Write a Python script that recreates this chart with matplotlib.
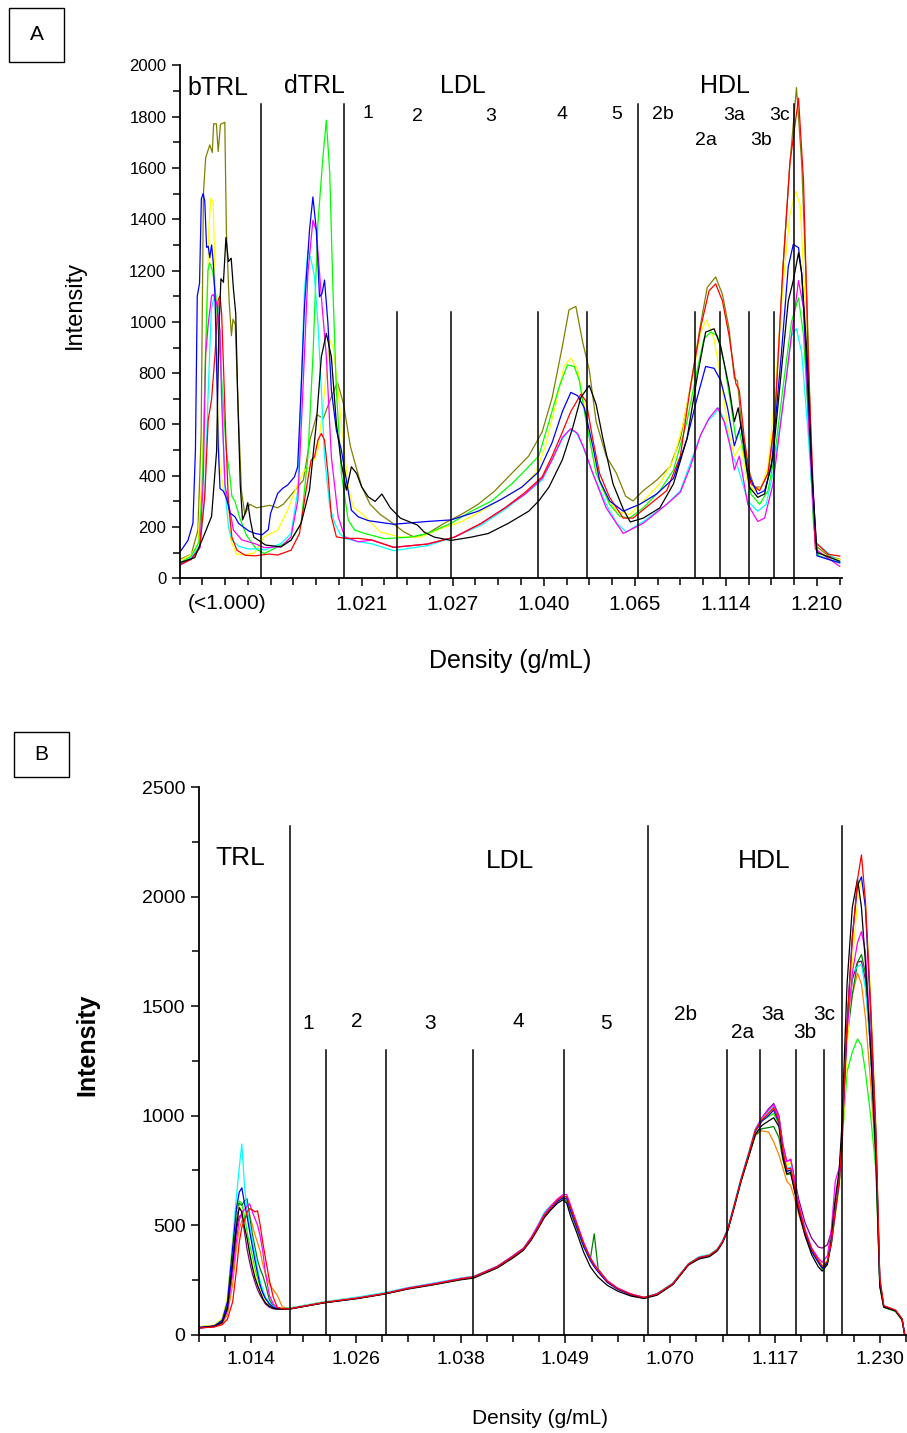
import matplotlib
matplotlib.use("Agg")
import matplotlib.pyplot as plt
from matplotlib.patches import Rectangle
from matplotlib.ticker import MultipleLocator

plt.rcParams['font.family'] = ['Liberation Sans', 'DejaVu Sans']

# ---------------- Panel A data (x in axis-tick units, y = intensity) ----------------
A_BLUE = [(0.0,100),(0.37,148),(0.59,215),(0.70,500),(0.78,1100),(0.88,1150),(0.96,1480),(1.04,1500),(1.11,1470),(1.19,1290),(1.26,1295),(1.33,1250),(1.41,1300),(1.48,1235),(1.56,1100),(1.63,830),(1.70,520),(1.78,350),(1.93,340),(2.07,310),(2.22,255),(2.44,240),(2.59,215),(2.81,200),(3.04,185),(3.33,175),(3.63,170),(3.9,190),(4.0,253),(4.31,331),(4.53,351),(4.75,364),(5.05,396),(5.19,435),(5.34,734),(5.49,1059),(5.71,1357),(5.86,1487),(6.01,1357),(6.15,1098),(6.26,1110),(6.37,1163),(6.52,994),(6.67,734),(6.89,578),(7.11,500),(7.33,383),(7.55,266),(7.85,240),(8.3,225),(9.41,211),(10.89,222),(11.93,228),(13.12,262),(14.15,309),(15.04,356),(15.78,416),(16.37,530),(16.82,651),(17.19,725),(17.49,712),(17.78,665),(18.15,517),(18.45,383),(18.89,302),(19.49,262),(20.22,289),(20.96,329),(21.7,390),(22.29,544),(22.74,705),(23.11,826),(23.48,819),(23.77,772),(24.07,665),(24.37,517),(24.66,597),(24.96,410),(25.4,329),(25.7,342),(26.0,436),(26.44,879),(26.74,1215),(26.96,1302),(27.19,1289),(27.33,1188),(27.56,812),(27.78,410),(28.0,88),(28.5,74),(29.0,61)]
A_OLIVE = [(0,74),(0.52,94),(0.81,188),(0.95,560),(1.05,1500),(1.15,1640),(1.33,1690),(1.44,1660),(1.5,1772),(1.62,1772),(1.7,1664),(1.8,1770),(1.99,1778),(2.06,1349),(2.18,1081),(2.28,946),(2.35,1010),(2.45,990),(2.57,678),(2.72,342),(2.87,249),(3.09,289),(3.38,275),(3.97,285),(4.3,275),(4.56,289),(5.0,336),(5.44,383),(5.74,544),(6.03,638),(6.32,624),(6.54,678),(6.94,765),(7.21,678),(7.5,517),(7.79,423),(8.01,356),(8.37,289),(8.82,249),(9.26,222),(9.86,181),(10.3,161),(10.89,175),(11.63,215),(12.37,249),(13.12,289),(13.86,342),(14.6,410),(15.34,477),(15.93,571),(16.37,705),(16.82,906),(17.11,1047),(17.41,1060),(17.71,920),(18.0,812),(18.3,611),(18.74,477),(19.19,410),(19.6,320),(19.92,302),(20.37,342),(20.96,383),(21.55,436),(22.0,544),(22.44,745),(22.88,987),(23.18,1134),(23.55,1175),(23.85,1107),(24.14,973),(24.37,780),(24.51,770),(24.66,620),(24.96,436),(25.25,356),(25.55,356),(25.85,410),(26.14,611),(26.51,1215),(26.81,1617),(27.1,1913),(27.33,1617),(27.56,1081),(27.78,410),(27.93,128),(28.5,88),(29.0,74)]
A_YELLOW = [(0,67),(0.52,94),(0.81,134),(1.0,430),(1.19,966),(1.29,1369),(1.38,1483),(1.48,1463),(1.56,1168),(1.67,698),(1.78,430),(1.93,349),(2.15,309),(2.25,150),(2.5,95),(2.9,92),(3.3,100),(3.72,162),(4.31,188),(4.75,266),(5.2,370),(5.49,422),(5.78,435),(6.08,500),(6.3,669),(6.45,799),(6.6,930),(6.75,900),(6.96,734),(7.19,539),(7.41,357),(7.63,279),(8.0,253),(8.82,181),(9.7,161),(10.6,161),(11.5,195),(12.4,222),(13.26,262),(14.15,309),(15.04,356),(15.63,410),(16.08,517),(16.52,678),(16.89,826),(17.19,859),(17.49,812),(17.78,678),(18.15,477),(18.6,342),(19.19,262),(19.77,249),(20.37,302),(21.1,369),(21.7,463),(22.14,611),(22.59,812),(22.88,960),(23.15,1007),(23.48,933),(23.77,785),(24.07,597),(24.37,477),(24.66,517),(24.96,369),(25.25,342),(25.55,355),(25.85,436),(26.14,705),(26.51,1148),(26.81,1416),(27.06,1510),(27.26,1456),(27.48,1081),(27.7,544),(27.93,114),(28.5,81),(29.0,74)]
A_GREEN = [(0,60),(0.5,85),(0.85,140),(1.0,350),(1.15,900),(1.25,1200),(1.32,1230),(1.45,1200),(1.6,1100),(1.75,900),(1.91,700),(2.05,500),(2.21,400),(2.3,320),(2.43,302),(2.65,235),(2.94,168),(3.38,114),(3.72,97),(4.31,123),(4.9,149),(5.34,214),(5.64,474),(5.86,864),(6.08,1383),(6.3,1643),(6.45,1786),(6.6,1578),(6.74,1124),(6.89,734),(7.11,409),(7.41,227),(7.7,188),(8.14,175),(9.0,155),(10.15,161),(10.89,175),(11.93,215),(12.82,262),(13.71,302),(14.6,369),(15.34,436),(15.78,477),(16.23,611),(16.67,745),(17.04,832),(17.34,826),(17.56,772),(17.86,611),(18.3,410),(18.89,289),(19.34,242),(19.77,235),(20.37,275),(21.1,342),(21.7,423),(22.29,611),(22.74,812),(23.03,933),(23.33,960),(23.63,946),(23.92,839),(24.22,678),(24.44,544),(24.59,577),(24.81,477),(25.1,329),(25.48,289),(25.85,342),(26.14,477),(26.51,745),(26.88,1000),(27.19,1094),(27.41,946),(27.63,611),(27.85,208),(28.07,88),(29.0,61)]
A_CYAN = [(0,55),(0.5,80),(0.9,130),(1.1,300),(1.25,700),(1.4,1050),(1.5,1090),(1.6,1080),(1.7,1060),(1.8,900),(1.9,600),(2.0,350),(2.15,200),(2.3,150),(2.6,125),(3.0,115),(3.6,115),(3.72,110),(4.46,136),(4.9,175),(5.2,344),(5.34,734),(5.49,1124),(5.64,1279),(5.78,1241),(5.93,1176),(6.08,994),(6.23,734),(6.37,474),(6.6,279),(6.82,214),(7.04,175),(7.26,156),(7.85,143),(8.44,135),(9.41,108),(10.89,128),(12.08,161),(13.26,208),(14.3,269),(15.19,329),(15.93,383),(16.37,463),(16.82,544),(17.11,577),(17.41,571),(17.71,517),(18.15,410),(18.74,289),(19.2,215),(19.63,181),(20.37,222),(21.4,289),(22.0,342),(22.44,450),(22.88,557),(23.18,611),(23.48,638),(23.7,665),(24.0,597),(24.29,477),(24.51,436),(24.96,302),(25.4,262),(25.77,289),(26.07,410),(26.51,678),(26.88,946),(27.1,973),(27.33,879),(27.63,544),(27.93,141),(29.0,61)]
A_MAGENTA = [(0,50),(0.5,75),(0.9,120),(1.05,400),(1.15,880),(1.19,913),(1.26,990),(1.41,1101),(1.48,1107),(1.63,1074),(1.78,966),(1.85,698),(2.0,362),(2.15,295),(2.37,188),(2.74,150),(3.33,135),(3.72,120),(4.46,123),(4.9,162),(5.2,305),(5.42,734),(5.64,1189),(5.86,1396),(6.01,1357),(6.23,1098),(6.45,864),(6.67,474),(6.97,240),(7.26,162),(7.85,143),(8.44,149),(9.41,121),(10.89,134),(12.08,161),(13.26,215),(14.3,275),(15.19,329),(15.93,390),(16.37,463),(16.82,550),(17.19,584),(17.49,564),(17.78,503),(18.15,410),(18.74,275),(19.49,175),(20.37,215),(21.4,289),(22.0,336),(22.44,436),(22.88,557),(23.26,624),(23.63,665),(23.92,611),(24.22,503),(24.37,423),(24.59,477),(24.96,289),(25.4,222),(25.7,235),(26.07,369),(26.51,678),(26.88,946),(27.19,1161),(27.41,1054),(27.63,611),(27.93,114),(29.0,47)]
A_RED = [(0,54),(0.52,74),(0.89,121),(1.11,322),(1.26,617),(1.41,698),(1.56,872),(1.7,1087),(1.78,1101),(1.85,1034),(1.93,832),(2.03,564),(2.15,295),(2.3,161),(2.52,110),(2.89,90),(3.33,88),(3.93,95),(4.31,91),(4.9,110),(5.27,175),(5.56,344),(5.78,461),(5.93,474),(6.08,539),(6.23,565),(6.37,539),(6.52,409),(6.67,240),(6.89,162),(7.26,156),(7.85,156),(8.44,150),(9.41,121),(10.89,134),(12.08,161),(13.26,215),(14.3,275),(15.19,336),(15.93,396),(16.37,477),(16.82,571),(17.19,651),(17.63,718),(17.86,691),(18.15,544),(18.45,410),(18.89,316),(19.49,235),(19.92,235),(20.66,289),(21.4,342),(22.0,477),(22.44,745),(22.88,973),(23.26,1121),(23.55,1148),(23.85,1081),(24.14,946),(24.44,759),(24.59,732),(24.81,544),(25.1,369),(25.48,342),(25.85,410),(26.14,611),(26.51,1215),(26.81,1617),(27.19,1872),(27.41,1550),(27.63,812),(27.93,141),(28.5,94),(29.0,87)]
A_BLACK = [(0,61),(0.67,81),(1.11,175),(1.41,242),(1.63,497),(1.73,966),(1.82,1168),(1.93,1154),(2.04,1329),(2.15,1235),(2.27,1248),(2.37,1127),(2.47,1033),(2.56,698),(2.67,362),(2.77,228),(2.89,255),(3.0,295),(3.11,228),(3.26,161),(3.48,148),(3.78,130),(4.46,123),(4.9,149),(5.34,214),(5.71,344),(6.01,604),(6.23,864),(6.45,955),(6.67,864),(6.89,604),(7.11,448),(7.33,344),(7.55,435),(7.78,409),(8.0,357),(8.29,318),(8.59,300),(8.89,329),(9.26,275),(9.7,235),(10.45,208),(10.74,181),(11.19,161),(11.93,148),(12.82,161),(13.56,175),(14.45,215),(15.34,262),(15.78,302),(16.23,356),(16.82,463),(17.26,584),(17.63,705),(18.0,752),(18.3,678),(18.6,544),(19.04,369),(19.49,270),(19.8,220),(20.37,235),(21.1,275),(21.7,369),(22.29,544),(22.74,785),(23.11,960),(23.48,973),(23.77,906),(24.14,745),(24.37,611),(24.54,665),(24.74,544),(25.03,356),(25.4,316),(25.7,329),(26.07,477),(26.44,812),(26.74,1081),(26.96,1161),(27.19,1269),(27.33,1188),(27.56,879),(27.78,410),(28.0,101),(29.0,67)]

A_SERIES = [(A_OLIVE, '#808000'), (A_YELLOW, '#FFFF00'), (A_GREEN, '#00FF00'), (A_CYAN, '#00FFFF'),
            (A_MAGENTA, '#FF00FF'), (A_RED, '#FF0000'), (A_BLUE, '#0000FF'), (A_BLACK, '#000000')]

A_TALL_LINES = [3.58, 7.22, 20.15, 27.0]
A_SHORT_LINES = [9.57, 11.92, 15.74, 17.9, 22.65, 23.72, 25.0, 26.13]
A_TALL_TOP, A_SHORT_TOP = 1850, 1040
A_TICK_POS = [8, 12, 16, 20, 24, 28]
A_TICK_LAB = ['1.021', '1.027', '1.040', '1.065', '1.114', '1.210']
A_BIG_LABELS = [('bTRL', 1.69, 1911), ('dTRL', 5.92, 1919), ('LDL', 12.45, 1919), ('HDL', 23.96, 1919)]
A_SMALL_LABELS = [('1', 8.28, 1814), ('2', 10.47, 1802), ('3', 13.68, 1802), ('4', 16.8, 1810),
                  ('5', 19.21, 1810), ('2b', 21.23, 1810), ('3a', 24.35, 1806), ('3c', 26.37, 1806),
                  ('2a', 23.12, 1705), ('3b', 25.54, 1705)]

# ---------------- Panel B data ----------------
B_X_TRL = [0.0, 0.6, 0.9, 1.1, 1.3, 1.45, 1.55, 1.65, 1.75, 1.85, 1.95, 2.05, 2.15, 2.25, 2.35, 2.45, 2.55, 2.7, 2.85, 3.0, 3.2]
B_X_MAIN = [3.5, 4.8, 6.1, 7.1, 8.0, 9.0, 10.0, 10.5, 11.4, 12.0,
            12.4, 12.7, 12.95, 13.2, 13.45, 13.7, 13.9, 14.05, 14.2, 14.45,
            14.7, 14.95, 15.1, 15.25, 15.6, 16.0, 16.5, 17.0, 17.5, 18.1,
            18.7, 19.1, 19.5, 19.8, 20.0, 20.2, 20.45, 20.7, 21.0, 21.25,
            21.5, 21.75, 21.95, 22.15, 22.3, 22.45, 22.6, 22.75, 22.9, 23.15,
            23.4, 23.65, 23.8, 24.0, 24.15, 24.3, 24.45, 24.55, 24.75, 24.95,
            25.15, 25.3, 25.45, 25.65, 25.85, 26.0, 26.15, 26.6, 26.85, 26.95]

B_CYAN_TRL = [35, 42, 70, 160, 430, 640, 760, 870, 680, 570, 500, 430, 370, 300, 245, 205, 170, 145, 128, 120, 118]
B_CYAN = [122, 150, 172, 192, 215, 236, 258, 266, 312, 360,
          395, 445, 500, 560, 590, 615, 630, 618, 575, 495,
          415, 350, 318, 292, 242, 210, 185, 170, 188, 236,
          325, 356, 366, 392, 430, 488, 600, 715, 835, 940,
          990, 1015, 1040, 975, 840, 760, 765, 675, 585, 470,
          390, 340, 315, 340, 430, 570, 700, 850, 1350, 1650,
          1680, 1690, 1580, 1300, 850, 240, 128, 108, 70, 0]
B_BLUE_TRL = [33, 40, 65, 150, 400, 580, 650, 670, 600, 540, 470, 405, 340, 280, 225, 190, 165, 140, 125, 118, 117]
B_BLUE = [118, 146, 166, 186, 210, 230, 253, 262, 308, 355,
          390, 437, 487, 540, 575, 608, 625, 620, 566, 484,
          402, 338, 310, 286, 238, 206, 181, 166, 183, 230,
          320, 350, 360, 386, 422, 478, 588, 703, 822, 928,
          975, 1000, 1025, 968, 830, 745, 750, 665, 575, 462,
          380, 332, 305, 330, 415, 555, 690, 860, 1420, 1820,
          2050, 2090, 1950, 1480, 920, 250, 130, 110, 70, 0]
B_BLACK_TRL = [30, 38, 55, 120, 330, 500, 580, 560, 490, 440, 370, 310, 260, 225, 195, 165, 145, 130, 120, 117, 116]
B_BLACK = [117, 145, 165, 185, 208, 228, 250, 258, 304, 350,
           385, 432, 482, 535, 570, 600, 615, 600, 540, 460,
           375, 310, 285, 262, 225, 198, 176, 165, 180, 228,
           318, 345, 356, 382, 420, 476, 585, 698, 815, 915,
           955, 975, 990, 950, 810, 735, 740, 655, 565, 450,
           365, 310, 290, 320, 440, 620, 750, 950, 1600, 1950,
           2080, 1950, 1700, 1300, 800, 220, 125, 108, 68, 0]
B_LIME_TRL = [35, 42, 65, 140, 380, 560, 610, 600, 540, 470, 410, 360, 300, 255, 220, 190, 165, 142, 128, 120, 118]
B_LIME = [121, 149, 169, 189, 213, 233, 256, 265, 311, 359,
          393, 441, 492, 546, 582, 614, 630, 620, 570, 488,
          407, 342, 314, 290, 242, 210, 185, 170, 186, 233,
          323, 353, 363, 389, 426, 482, 592, 706, 826, 931,
          975, 995, 1010, 960, 830, 748, 752, 668, 578, 465,
          384, 333, 305, 330, 418, 555, 690, 850, 1200, 1290,
          1350, 1320, 1200, 1000, 750, 220, 125, 105, 65, 0]
B_DKGREEN_TRL = [33, 40, 60, 130, 350, 540, 600, 590, 610, 620, 540, 460, 400, 340, 300, 270, 230, 160, 130, 120, 118]
B_DKGREEN = [119, 147, 167, 187, 211, 231, 254, 263, 309, 357,
             391, 443, 495, 550, 585, 610, 622, 610, 560, 480,
             400, 345, 460, 300, 245, 210, 183, 168, 184, 231,
             321, 351, 361, 387, 424, 478, 585, 700, 815, 910,
             940, 945, 950, 900, 800, 730, 735, 655, 570, 460,
             380, 330, 300, 325, 415, 550, 690, 850, 1350, 1550,
             1700, 1735, 1650, 1300, 850, 230, 128, 108, 68, 0]
B_YELLOW_TRL = [36, 44, 75, 170, 420, 560, 585, 560, 500, 440, 380, 330, 280, 235, 200, 170, 150, 132, 122, 118, 117]
B_YELLOW = [120, 148, 168, 188, 212, 232, 255, 264, 310, 358,
            392, 440, 490, 545, 580, 612, 628, 622, 568, 486,
            405, 340, 312, 288, 240, 208, 183, 168, 185, 232,
            322, 352, 362, 388, 425, 480, 590, 705, 825, 935,
            985, 1010, 1030, 975, 850, 770, 790, 690, 590, 470,
            388, 340, 318, 340, 415, 540, 670, 820, 1300, 1700,
            1980, 2075, 1990, 1550, 950, 260, 132, 112, 72, 0]
B_MAGENTA_TRL = [32, 38, 55, 110, 280, 440, 520, 560, 570, 585, 597, 560, 530, 500, 450, 380, 280, 180, 140, 122, 118]
B_MAGENTA = [119, 147, 168, 188, 213, 233, 256, 265, 312, 360,
             395, 445, 497, 552, 588, 620, 638, 640, 590, 505,
             420, 352, 322, 296, 246, 212, 186, 170, 186, 233,
             322, 352, 362, 388, 425, 482, 592, 707, 828, 935,
             990, 1025, 1050, 990, 860, 790, 800, 700, 600, 480,
             395, 350, 330, 360, 480, 700, 760, 880, 1380, 1650,
             1790, 1840, 1750, 1350, 880, 240, 130, 110, 70, 0]
B_RED_TRL = [30, 35, 45, 70, 150, 300, 420, 490, 520, 560, 575, 570, 560, 565, 500, 420, 350, 250, 170, 125, 118]
B_RED = [118, 147, 167, 187, 211, 231, 254, 263, 309, 357,
         391, 439, 489, 544, 580, 614, 632, 630, 580, 498,
         415, 348, 318, 292, 243, 210, 184, 169, 185, 232,
         322, 352, 362, 388, 425, 480, 590, 705, 825, 930,
         980, 1010, 1035, 975, 840, 755, 760, 675, 585, 470,
         390, 340, 312, 335, 420, 560, 700, 870, 1420, 1800,
         2080, 2190, 1980, 1500, 930, 260, 132, 112, 72, 0]
B_ORANGE_TRL = [32, 38, 50, 90, 230, 400, 480, 520, 530, 540, 545, 500, 455, 420, 380, 320, 280, 230, 205, 180, 125]
B_ORANGE = [121, 149, 169, 189, 213, 233, 256, 265, 311, 359,
            393, 441, 491, 546, 581, 613, 628, 620, 566, 486,
            405, 340, 312, 288, 240, 208, 183, 168, 185, 232,
            322, 352, 362, 388, 425, 480, 585, 700, 815, 910,
            930, 925, 880, 820, 760, 700, 680, 620, 550, 455,
            385, 340, 318, 340, 420, 560, 700, 860, 1400, 1550,
            1650, 1600, 1450, 1150, 800, 230, 128, 108, 68, 0]
B_PURPLE_TRL = [30, 36, 52, 110, 300, 480, 540, 545, 470, 390, 330, 280, 240, 205, 180, 160, 140, 125, 118, 116, 116]
B_PURPLE = [118, 146, 167, 187, 211, 231, 254, 263, 309, 357,
            391, 440, 491, 546, 581, 613, 630, 628, 575, 492,
            410, 344, 315, 290, 242, 209, 184, 169, 185, 232,
            322, 352, 362, 388, 425, 480, 590, 705, 825, 935,
            990, 1030, 1055, 1000, 870, 790, 800, 710, 620, 510,
            440, 400, 395, 410, 470, 600, 730, 880, 1380, 1620,
            1700, 1705, 1620, 1300, 860, 240, 130, 110, 70, 0]

B_SERIES = [(B_PURPLE_TRL, B_PURPLE, '#800080'), (B_ORANGE_TRL, B_ORANGE, '#FF8000'),
            (B_LIME_TRL, B_LIME, '#00FF00'), (B_DKGREEN_TRL, B_DKGREEN, '#008000'),
            (B_CYAN_TRL, B_CYAN, '#00FFFF'), (B_YELLOW_TRL, B_YELLOW, '#FFFF00'),
            (B_MAGENTA_TRL, B_MAGENTA, '#FF00FF'), (B_BLUE_TRL, B_BLUE, '#0000FF'),
            (B_BLACK_TRL, B_BLACK, '#000000'), (B_RED_TRL, B_RED, '#FF0000')]

B_TALL_LINES = [3.5, 17.16, 24.55]
B_SHORT_LINES = [4.86, 7.14, 10.49, 13.96, 20.18, 21.42, 22.8, 23.86]
B_TALL_TOP, B_SHORT_TOP = 2320, 1300
B_TICK_POS = [2, 6, 10, 14, 18, 22, 26]
B_TICK_LAB = ['1.014', '1.026', '1.038', '1.049', '1.070', '1.117', '1.230']
B_BIG_LABELS = [('TRL', 1.58, 2175), ('LDL', 11.9, 2160), ('HDL', 21.6, 2160)]
B_SMALL_LABELS = [('1', 4.18, 1420), ('2', 6.04, 1430), ('3', 8.83, 1420), ('4', 12.19, 1430),
                  ('5', 15.55, 1420), ('2b', 18.6, 1460), ('2a', 20.78, 1380), ('3a', 21.92, 1460),
                  ('3b', 23.14, 1380), ('3c', 23.87, 1460)]

# ---------------- Figure ----------------
W, H = 907, 1433
fig = plt.figure(figsize=(W / 100, H / 100), dpi=100)

def fx(px):
    return px / W

def fy(py):
    return 1 - py / H

def style_axes(ax, xmax, ymax):
    ax.spines['top'].set_visible(False)
    ax.spines['right'].set_visible(False)
    ax.spines['left'].set_linewidth(1.3)
    ax.spines['bottom'].set_linewidth(1.3)
    ax.set_xlim(0, xmax)
    ax.set_ylim(0, ymax)

# ----- Panel A -----
axA = fig.add_axes([fx(179.5), fy(578.4), fx(842.0) - fx(179.5), (578.4 - 65.3) / H])
style_axes(axA, 29.1, 2000)
for data, col in A_SERIES:
    xs = [p[0] for p in data]
    ys = [p[1] for p in data]
    axA.plot(xs, ys, color=col, lw=0.9, zorder=2)
for x in A_TALL_LINES:
    axA.plot([x, x], [0, A_TALL_TOP], color='black', lw=1.1, zorder=3)
for x in A_SHORT_LINES:
    axA.plot([x, x], [0, A_SHORT_TOP], color='black', lw=1.1, zorder=3)
axA.yaxis.set_major_locator(MultipleLocator(200))
axA.yaxis.set_minor_locator(MultipleLocator(100))
axA.set_xticks(A_TICK_POS)
axA.set_xticklabels(A_TICK_LAB)
axA.xaxis.set_minor_locator(MultipleLocator(1))
axA.tick_params(axis='both', which='major', direction='out', length=6, width=1.1, labelsize=12)
axA.tick_params(axis='both', which='minor', direction='out', length=5, width=1.1)
axA.tick_params(axis='x', which='major', labelsize=15, pad=6)
axA.annotate('(<1.000)', xy=(2.1, 0), xycoords=('data', 'axes fraction'),
             xytext=(0, -11), textcoords='offset points', ha='center', va='top', fontsize=15)
for s, x, y in A_BIG_LABELS:
    axA.text(x, y, s, ha='center', va='center', fontsize=18)
for s, x, y in A_SMALL_LABELS:
    axA.text(x, y, s, ha='center', va='center', fontsize=14)
fig.text(fx(75), fy(305), 'Intensity', rotation=90, ha='center', va='center', fontsize=17)
fig.text(fx(510), fy(661), 'Density (g/mL)', ha='center', va='center', fontsize=18)

# ----- Panel B -----
axB = fig.add_axes([fx(198.6), fy(1334.6), fx(906.0) - fx(198.6), (1334.6 - 787.0) / H])
style_axes(axB, 27, 2500)
for trl, main, col in B_SERIES:
    axB.plot(B_X_TRL + B_X_MAIN, trl + main, color=col, lw=0.9, zorder=2)
for x in B_TALL_LINES:
    axB.plot([x, x], [0, B_TALL_TOP], color='black', lw=1.1, zorder=3)
for x in B_SHORT_LINES:
    axB.plot([x, x], [0, B_SHORT_TOP], color='black', lw=1.1, zorder=3)
axB.yaxis.set_major_locator(MultipleLocator(500))
axB.yaxis.set_minor_locator(MultipleLocator(250))
axB.set_xticks(B_TICK_POS)
axB.set_xticklabels(B_TICK_LAB)
axB.xaxis.set_minor_locator(MultipleLocator(1))
axB.tick_params(axis='both', which='major', direction='out', length=6, width=1.1, labelsize=14)
axB.tick_params(axis='both', which='minor', direction='out', length=5, width=1.1)
axB.tick_params(axis='x', which='major', labelsize=14, pad=6)
for s, x, y in B_BIG_LABELS:
    axB.text(x, y, s, ha='center', va='center', fontsize=19)
for s, x, y in B_SMALL_LABELS:
    axB.text(x, y, s, ha='center', va='center', fontsize=15)
fig.text(fx(87), fy(1045), 'Intensity', rotation=90, ha='center', va='center', fontsize=18,
         fontweight='bold')
fig.text(fx(540), fy(1418), 'Density (g/mL)', ha='center', va='center', fontsize=15)

# ----- Panel letters in boxes -----
for letter, x0, y0, x1, y1 in [('A', 9, 8, 64, 62), ('B', 14, 732, 69, 777)]:
    fig.patches.append(Rectangle((fx(x0), fy(y1)), fx(x1) - fx(x0), (y1 - y0) / H,
                                 transform=fig.transFigure, fill=False, edgecolor='black', lw=1.0))
    fig.text(fx((x0 + x1) / 2), fy((y0 + y1) / 2), letter, ha='center', va='center', fontsize=15)

fig.savefig('out.png', dpi=100)
